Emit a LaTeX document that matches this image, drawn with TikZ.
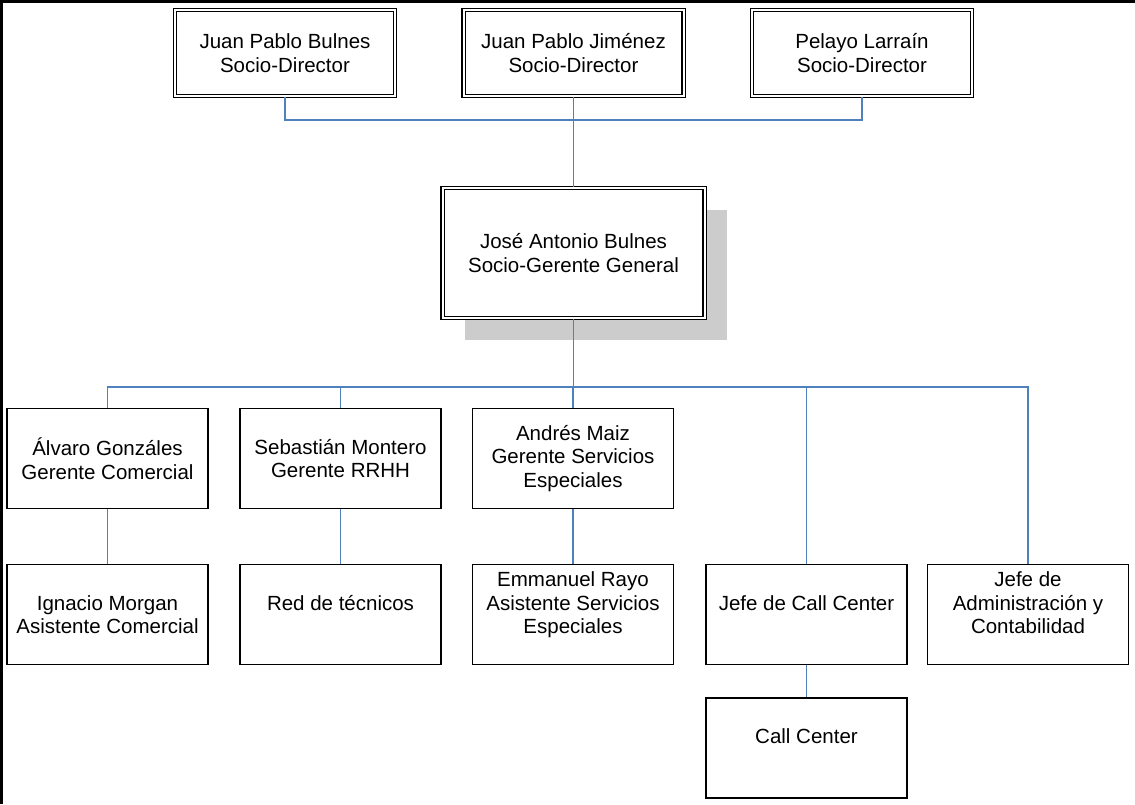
\documentclass[tikz,border=0pt]{standalone}
\usepackage{fontspec}
\setmainfont{Liberation Sans}
\usetikzlibrary{shadows}
\definecolor{linkblue}{RGB}{79,129,189}
\definecolor{shadegray}{RGB}{204,204,204}

\begin{document}
\begin{tikzpicture}[
        x=1pt, y=-1pt,
        every node/.style={font=\fontsize{20.5}{23.5}\selectfont, align=center, inner sep=0pt},
        unitbox/.style={draw, fill=white, line width=1.4pt, minimum width=201pt, minimum height=100pt},
        socbox/.style={draw, fill=white, line width=1.2pt, double=white, double distance=2pt,
            minimum width=220pt, minimum height=86pt},
        link/.style={draw=linkblue, line width=1.5pt},
        frameline/.style={line width=3pt}
    ]
        \useasboundingbox (0,0) rectangle (1135,804);
        \draw[frameline] (1.5,804) -- (1.5,1.5) -- (1135,1.5);

        \node[socbox] (bulnes) at (285,53) {Juan Pablo Bulnes\\Socio-Director};
        \node[socbox] (jimenez) at (573.5,53) {Juan Pablo Jiménez\\Socio-Director};
        \node[socbox] (larrain) at (862,53) {Pelayo Larraín\\Socio-Director};

        \node[socbox, minimum width=262pt, minimum height=130pt,
            drop shadow={shadow xshift=22pt, shadow yshift=-22pt, opacity=1, fill=shadegray}]
            (gerente) at (573.5,253) {José Antonio Bulnes\\Socio-Gerente General};

        \node[unitbox] (comercial) at (107.5,458.5) {Álvaro Gonzáles\\Gerente Comercial};
        \node[unitbox] (rrhh) at (340.5,458.5) {Sebastián Montero\\Gerente RRHH};
        \node[unitbox] (especiales) at (573,458.5) {Andrés Maiz\\Gerente Servicios\\Especiales};
        \node[unitbox] (jefecall) at (806.5,614.5) {Jefe de Call Center\\\mbox{}};
        \node[unitbox] (admin) at (1028,614.5) {Jefe de\\Administración y\\Contabilidad\\\mbox{}};

        \node[unitbox] (asistcom) at (107.5,614.5) {Ignacio Morgan\\Asistente Comercial};
        \node[unitbox] (tecnicos) at (340.5,614.5) {Red de técnicos\\\mbox{}};
        \node[unitbox] (asistesp) at (573,614.5) {Emmanuel Rayo\\Asistente Servicios\\Especiales\\\mbox{}};
        \node[unitbox] (callcenter) at (806.5,748) {Call Center\\\mbox{}};

        \coordinate (topbus) at (573.5,120);
        \coordinate (bus) at (573.5,387);

        \draw[link] (bulnes.south) -- (bulnes.south |- topbus) -| (larrain.south);
        \draw[link] (jimenez.south) -- (gerente.north);
        \draw[link] (gerente.south) -- (gerente.south |- bus);
        \draw[link] (comercial.north) -- (comercial.north |- bus) -| (admin.north);
        \foreach \unit in {rrhh,especiales,jefecall}
            \draw[link] (\unit.north) -- (\unit.north |- bus);
        \draw[link] (comercial.south) -- (asistcom.north);
        \draw[link] (rrhh.south) -- (tecnicos.north);
        \draw[link] (especiales.south) -- (asistesp.north);
        \draw[link] (jefecall.south) -- (callcenter.north);
    \end{tikzpicture}
\end{document}
